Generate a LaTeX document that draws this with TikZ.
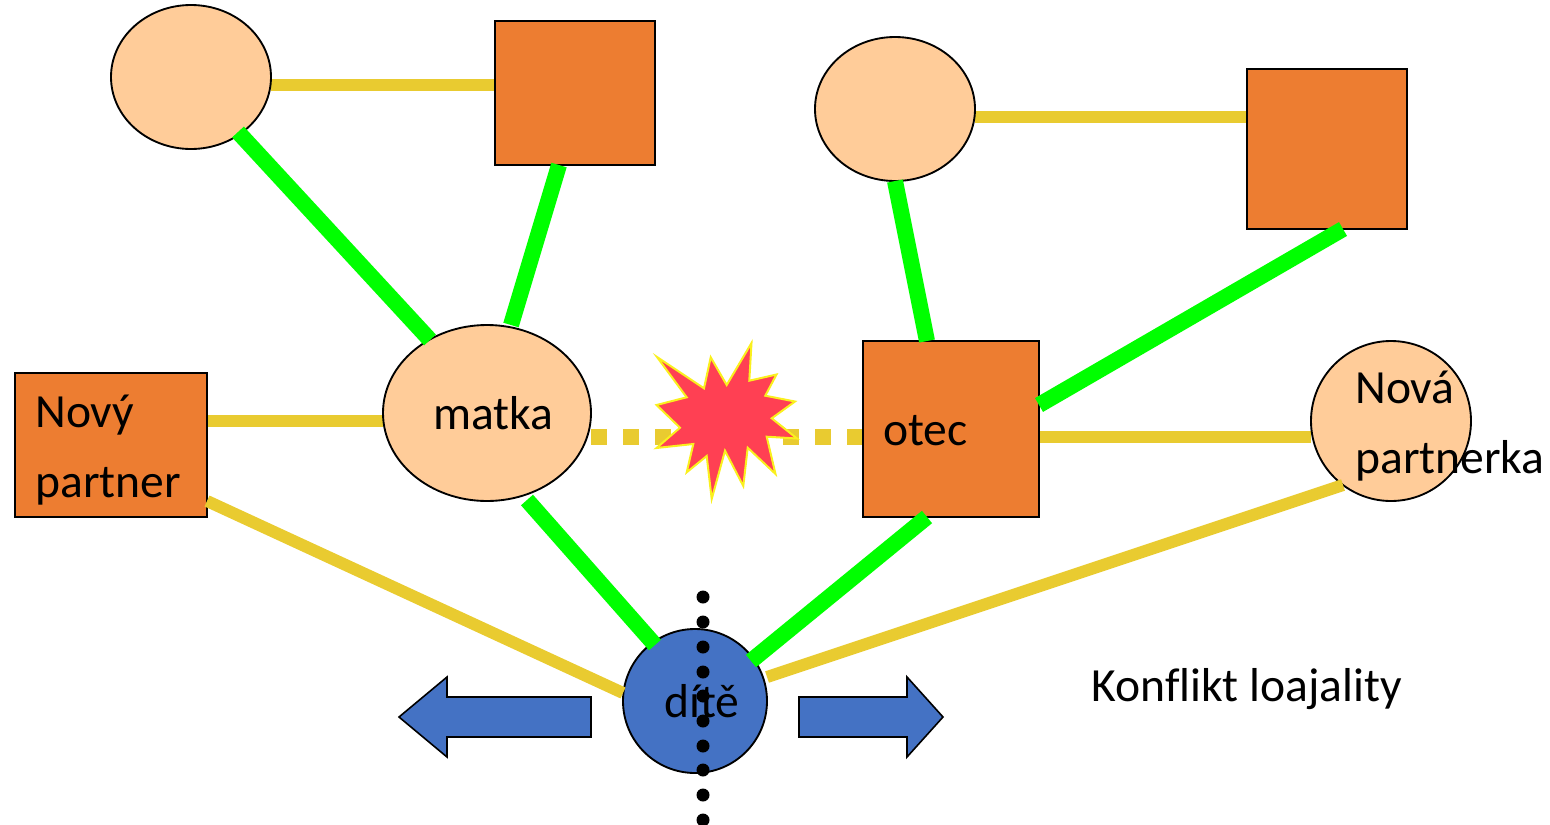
\documentclass[tikz,border=0pt]{standalone}
\usepackage{fontspec}
\setmainfont{Carlito}
\definecolor{peach}{HTML}{FFCC99}
\definecolor{orng}{HTML}{ED7D31}
\definecolor{blu}{HTML}{4472C4}
\definecolor{yel}{HTML}{E9CB30}
\definecolor{grn}{HTML}{00FF00}
\definecolor{burst}{HTML}{FF4053}
\definecolor{burstline}{HTML}{FAF01E}
\tikzset{
  ell/.style={ellipse,draw=black,line width=1.4pt,fill=peach,inner sep=0pt,minimum width=#1},
  box/.style={rectangle,draw=black,line width=1.4pt,fill=orng,inner sep=0pt},
  tie/.style={yel,line width=9pt},
  bond/.style={grn,line width=12pt},
  lbl/.style={inner sep=0pt,font=\fontsize{35.7}{35.7}\selectfont,text=black},
  blockarrow/.style={draw=black,line width=1.2pt,fill=blu,line join=miter},
}
\usetikzlibrary{shapes.geometric}
\begin{document}
\begin{tikzpicture}[x=0.75pt,y=-0.75pt]
\useasboundingbox (0,0) rectangle (1550,825);
% connectors under shapes
\coordinate (a1) at (271,85); \coordinate (a2) at (495,85);
\coordinate (b1) at (975,117); \coordinate (b2) at (1247,117);
\coordinate (c1) at (207,421); \coordinate (c2) at (383,421);
\coordinate (d1) at (1039,437); \coordinate (d2) at (1311,437);
\coordinate (e1) at (591,437); \coordinate (e2) at (863,437);
\draw[tie] (a1) -- (a2);
\draw[tie] (b1) -- (b2);
\draw[tie] (c1) -- (c2);
\draw[tie] (d1) -- (d2);
\draw[yel,line width=12pt,dash pattern=on 12pt off 12pt] (e1) -- (e2);
% shapes
\node[ell=160*0.75pt,minimum height=108pt,at={(191,77)}] (gm1) {};
\node[box,minimum width=120pt,minimum height=108pt,at={(575,93)}] (gf1) {};
\node[ell=160*0.75pt,minimum height=108pt,at={(895,109)}] (gm2) {};
\node[box,minimum width=120pt,minimum height=120pt,at={(1327,149)}] (gf2) {};
\node[ell=208*0.75pt,minimum height=132pt,at={(487,413)}] (matka) {};
\node[box,minimum width=132pt,minimum height=132pt,at={(951,429)}] (otec) {};
\node[box,minimum width=144pt,minimum height=108pt,at={(111,445)}] (np) {};
\node[ell=160*0.75pt,minimum height=120pt,at={(1391,421)}] (nk) {};
\node[ell=144*0.75pt,minimum height=108pt,fill=blu,at={(695,701)}] (dite) {};
% green bonds
\draw[bond] (238,132) -- (430,340);
\draw[bond] (559,165) -- (511,325);
\draw[bond] (895,181) -- (927,341);
\draw[bond] (1343,229) -- (1039,405);
\draw[bond] (527,500) -- (655,645);
\draw[bond] (927,517) -- (751,661);
% long ties
\draw[tie] (207,501) -- (623,693);
\draw[tie] (1343,485) -- (767,677);
% burst
\draw[fill=burst,draw=burstline,line width=1.5pt,miter limit=20]
 (657,357)--(704,388.3)--(710.7,357.3)--(726.7,385)--(751.5,343)--(749.3,380.7)--(776.5,374.5)--(765.3,395.7)--(795,401.5)--(771.7,418.3)--(797,438.5)--(766.7,436.7)--(775.5,474)--(747.7,447.7)--(743.3,486)--(725,450.7)--(711.7,499)--(706.7,456)--(686.7,472.3)--(693.3,444)--(656.5,448)--(680,427.7)--(656.5,405)--(686.7,397.3)--cycle;
% arrows
\draw[blockarrow] (591,697)--(447,697)--(447,677)--(399,717)--(447,757)--(447,737)--(591,737)--cycle;
\draw[blockarrow] (799,697)--(907,697)--(907,677)--(943,717)--(907,757)--(907,737)--(799,737)--cycle;
% dots
\foreach \yy in {597,622,647,672,696,721,746,770,795,820}
  \fill (703,\yy) ellipse [x radius=6.5,y radius=6.5];
% labels
\node[lbl,anchor=base west] (tnp1) at (35,427) {Nový};
\node[lbl,anchor=base west] (tnp2) at (35,497) {partner};
\node[lbl,anchor=base west] (tm) at (433,429) {matka};
\node[lbl,anchor=base west] (to) at (883,445) {otec};
\node[lbl,anchor=base west] (tk1) at (1355,403) {Nová};
\node[lbl,anchor=base west] (tk2) at (1355,473) {partnerka};
\node[lbl,anchor=base west] (td) at (664,717) {dítě};
\node[lbl,anchor=base west] (tl) at (1091,701) {Konf\kern0ptlikt loajality};
\end{tikzpicture}
\end{document}
